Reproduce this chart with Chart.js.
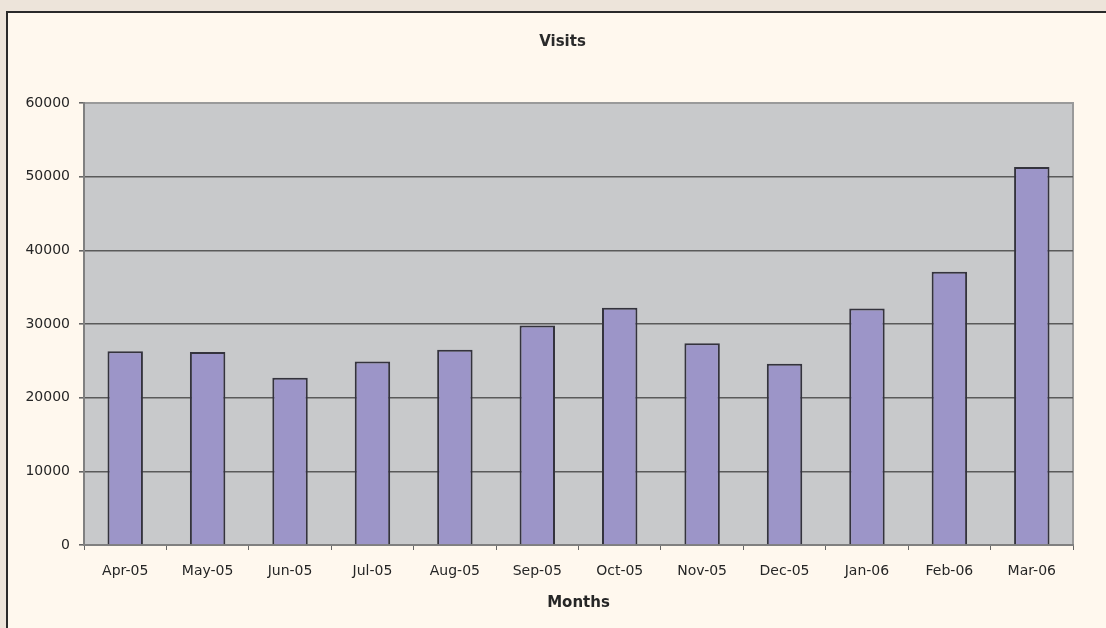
<!DOCTYPE html>
<html>
<head>
<meta charset="utf-8">
<script src="https://cdn.jsdelivr.net/npm/chart.js@4/dist/chart.umd.min.js"></script>
<style>
  html, body { margin: 0; padding: 0; }
  body { width: 1106px; height: 628px; overflow: hidden; background: #ede4da; position: relative; }
  #box { position: absolute; left: 6px; top: 11px; width: 1200px; height: 700px;
         border-left: 2px solid #2a2a2a; border-top: 2px solid #2a2a2a; background: #fff8ee; }
  #wrap { position: absolute; left: 0; top: 0; width: 1106px; height: 628px; }
</style>
</head>
<body>
<div id="box"></div>
<div id="wrap"><canvas id="grafico"></canvas></div>
<script>
const months = ["Apr-05", "May-05", "Jun-05", "Jul-05", "Aug-05", "Sep-05",
  "Oct-05", "Nov-05", "Dec-05", "Jan-06", "Feb-06", "Mar-06"]
const visits = [26300, 26200, 22700, 24900, 26500, 29800, 32200, 27400, 24600, 32100, 37100, 51300]
const yTicks = [0, 10000, 20000, 30000, 40000, 50000, 60000]

// gray plot area with a thin frame, like the old spreadsheet chart
const plotBack = {
  id: "plotBack",
  afterLayout(chart) {
    // the title sits a bit right of the canvas centre in the original
    if (chart.titleBlock) chart.titleBlock.left = 52
  },
  beforeDraw(chart) {
    const { ctx, chartArea: a } = chart
    ctx.save()
    ctx.fillStyle = "#c8c9cb"
    ctx.fillRect(a.left, a.top, a.right - a.left, a.bottom - a.top)
    ctx.strokeStyle = "#9a9a9a"
    ctx.lineWidth = 2
    ctx.strokeRect(a.left, a.top, a.right - a.left, a.bottom - a.top)
    ctx.restore()
  },
}

const graph = document.querySelector("#grafico")
const data = {
  labels: months,
  datasets: [
    {
      label: "Visits",
      data: visits,
      backgroundColor: "#9c95c8",
      borderColor: "#34333d",
      borderWidth: 2,
      barPercentage: 0.43,
      categoryPercentage: 1,
    },
  ],
}

const config = {
  type: "bar",
  data: data,
  plugins: [plotBack],
  options: {
    responsive: false,
    animation: false,
    devicePixelRatio: 1,
    layout: { padding: { left: 0, right: 33, top: 0, bottom: 0 } },
    plugins: {
      legend: { display: false },
      tooltip: { enabled: false },
      title: {
        display: true,
        text: "Visits",
        color: "#2a2a2a",
        font: { family: "DejaVu Sans", size: 15, weight: "bold", lineHeight: 1.2 },
        padding: { top: 33, bottom: 52 },
      },
    },
    scales: {
      x: {
        afterFit(scale) { scale.height = 83 },
        grid: {
          display: true,
          drawOnChartArea: false,
          drawTicks: true,
          tickLength: 5,
          tickColor: "#666666",
        },
        border: { color: "#808080", width: 2 },
        ticks: {
          color: "#262626",
          padding: 13,
          font: { family: "DejaVu Sans", size: 14 },
          maxRotation: 0,
        },
        title: {
          display: true,
          text: "Months",
          color: "#262626",
          font: { family: "DejaVu Sans", size: 15, weight: "bold", lineHeight: 1.2 },
          padding: { top: 0, bottom: 16 },
        },
      },
      y: {
        min: 0,
        max: 60000,
        afterFit(scale) { scale.width = 84 },
        afterBuildTicks(scale) { scale.ticks = yTicks.map(v => ({ value: v })) },
        grid: {
          color: ctx => (ctx.tick && (ctx.tick.value === 0 || ctx.tick.value === 60000)) ? "rgba(0,0,0,0)" : "#5a5a5a",
          lineWidth: 1.6,
          tickLength: 5,
          tickColor: "#666666",
        },
        border: { color: "#808080", width: 2 },
        ticks: {
          color: "#262626",
          padding: 9,
          font: { family: "DejaVu Sans", size: 14 },
          callback: v => String(v),
        },
      },
    },
  },
}

graph.width = 1106
graph.height = 628
new Chart(graph, config)
</script>
</body>
</html>
